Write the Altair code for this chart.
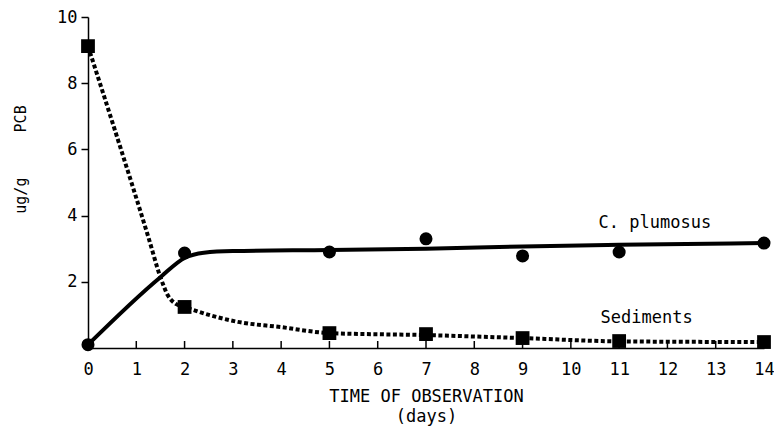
import altair as alt
import pandas as pd

# observed points
days = [0, 2, 5, 7, 9, 11, 14]
plumosus_obs = [0.10, 2.87, 2.90, 3.30, 2.78, 2.90, 3.17]
sediment_obs = [9.12, 1.24, 0.45, 0.42, 0.30, 0.21, 0.18]

# fitted curves
plumosus_curve_x = [0, 1.5, 2.0, 2.4, 3, 5, 7, 9, 11, 14]
plumosus_curve_y = [0.10, 2.14, 2.72, 2.88, 2.93, 2.96, 3.00, 3.07, 3.12, 3.17]
sediment_curve_x = [0, 0.64, 1.25, 1.5, 1.65, 1.8, 2.0, 3.1, 4.0, 5, 7, 9, 11, 14]
sediment_curve_y = [9.12, 6.20, 3.35, 2.14, 1.60, 1.35, 1.24, 0.79, 0.63, 0.45, 0.39, 0.30, 0.20, 0.18]

x_ticks = list(range(15))
y_ticks = [2, 4, 6, 8, 10]

labels = ["C. plumosus", "Sediments"]
label_x = [11.74, 11.57]
label_y = [3.78, 0.91]

FONT = "DejaVu Sans Mono"
BLACK = "#000000"

obs = pd.DataFrame({"day": days, "plum": plumosus_obs, "sed": sediment_obs})
pc = pd.DataFrame({"x": plumosus_curve_x, "y": plumosus_curve_y})
sc = pd.DataFrame({"x": sediment_curve_x, "y": sediment_curve_y})
tk = pd.DataFrame({"t": x_ticks})
lab = pd.DataFrame({"text": labels, "x": label_x, "y": label_y})

xs = alt.Scale(domain=[0, 14], nice=False, zero=False)
ys = alt.Scale(domain=[0, 10], nice=False, zero=False)

x_axis = alt.Axis(
    values=x_ticks, grid=False, ticks=False, tickSize=0,
    domainColor=BLACK, domainWidth=1.5,
    labelFont=FONT, labelFontSize=17, labelColor=BLACK, labelPadding=13,
    labelOverlap=False, labelFlush=False,
    title=["TIME OF OBSERVATION", "(days)"],
    titleFont=FONT, titleFontSize=17, titleFontWeight="normal", titleColor=BLACK,
    titleY=40, titleBaseline="top", titleLineHeight=20,
)
y_axis = alt.Axis(
    values=y_ticks, grid=False,
    domainColor=BLACK, domainWidth=1.5,
    tickColor=BLACK, tickSize=7, tickWidth=1.5,
    labelFont=FONT, labelFontSize=17, labelColor=BLACK, labelPadding=4,
    title="ug/g\u00a0\u00a0\u00a0\u00a0\u00a0PCB",
    titleFont=FONT, titleFontSize=15, titleFontWeight="normal", titleColor=BLACK,
    titleAngle=270, titleX=-68, titleY=142, titleAlign="center", titleBaseline="middle",
)

plum_line = alt.Chart(pc).mark_line(color=BLACK, strokeWidth=4, interpolate="monotone").encode(
    x=alt.X("x:Q", scale=xs, axis=x_axis),
    y=alt.Y("y:Q", scale=ys, axis=y_axis),
)
sed_line = alt.Chart(sc).mark_line(color=BLACK, strokeWidth=4, strokeDash=[4, 2.5],
                                   interpolate="monotone").encode(
    x=alt.X("x:Q", scale=xs),
    y=alt.Y("y:Q", scale=ys),
)
plum_pts = alt.Chart(obs).mark_point(shape="circle", filled=True, color=BLACK, size=170, opacity=1).encode(
    x=alt.X("day:Q", scale=xs),
    y=alt.Y("plum:Q", scale=ys),
)
sed_pts = alt.Chart(obs).mark_point(shape="square", filled=True, color=BLACK, size=190, opacity=1).encode(
    x=alt.X("day:Q", scale=xs),
    y=alt.Y("sed:Q", scale=ys),
)
ticks = alt.Chart(tk).mark_rule(color=BLACK, strokeWidth=1.5).encode(
    x=alt.X("t:Q", scale=xs),
    y=alt.value(331),
    y2=alt.value(324),
)
texts = alt.Chart(lab).mark_text(font=FONT, fontSize=17, color=BLACK).encode(
    x=alt.X("x:Q", scale=xs),
    y=alt.Y("y:Q", scale=ys),
    text="text:N",
)

chart = alt.layer(plum_line, sed_line, ticks, plum_pts, sed_pts, texts).properties(
    width=676, height=331,
    padding={"left": 80, "top": 9, "right": 10, "bottom": 79},
    autosize=alt.AutoSizeParams(type="none"),
    background="white",
).configure_view(stroke=None)

chart.save("out.html", embed_options={"renderer": "svg", "actions": False})
